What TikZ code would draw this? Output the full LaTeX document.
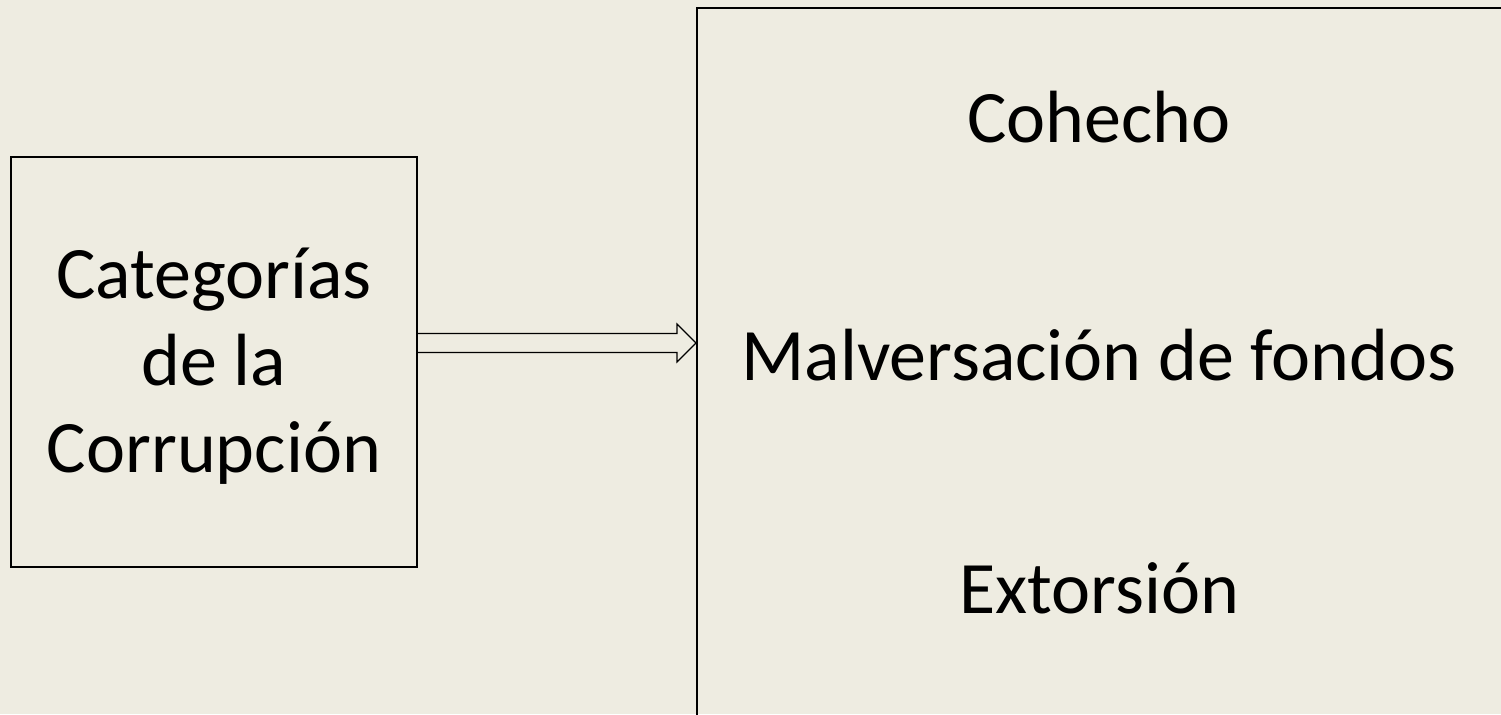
\documentclass[tikz,border=0pt]{standalone}
\usepackage{fontspec}
\setmainfont{Carlito}
\usetikzlibrary{positioning,calc}
\definecolor{paper}{RGB}{238,236,225}

\begin{document}
\begin{tikzpicture}[x=0.5pt,y=-0.5pt,line width=1pt,font=\fontsize{37}{43.5}\selectfont]
	\clip (0,0) rectangle (1501,714);
	\fill[paper] (0,0) rectangle (1501,714);
	
	\node[draw,minimum width=203pt,minimum height=205pt] (cat) at (214,362) {};
	\node[align=center,inner sep=0pt] (catText) at ($(cat.center)+(0,4)$) {Categorías\\de la\\Corrupción};
	\node[draw,anchor=north west,minimum width=420pt,minimum height=370pt] (list) at (696,7) {};
	
	\node[anchor=base] (coh) at (1099,142) {Cohecho};
	\node[anchor=base] (mal) at (1099,380) {Malversación de fondos};
	\node[anchor=base] (ext) at (1099,613) {Extorsión};
	
	% hollow arrow
	\coordinate (a) at (cat.east |- 0,343);
	\coordinate (b) at (list.west |- 0,343);
	\draw[line width=.6pt] ($(a)+(0,-9.5)$) -- ($(b)+(-19,-9.5)$) -- ($(b)+(-19,-19)$) -- (b)
		-- ($(b)+(-19,19)$) -- ($(b)+(-19,9.5)$) -- ($(a)+(0,9.5)$);
\end{tikzpicture}
\end{document}
